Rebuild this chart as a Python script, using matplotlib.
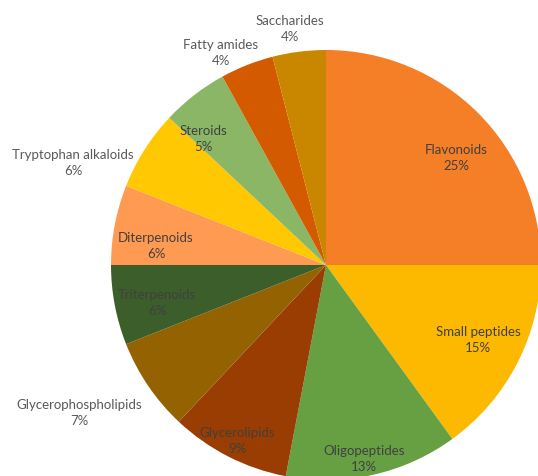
import matplotlib
matplotlib.use("Agg")
import matplotlib.pyplot as plt

plt.rcParams["font.family"] = ["Lato", "DejaVu Sans"]

# class shares (%) in clockwise order from 12 o'clock
classes = ["Flavonoids", "Small peptides", "Oligopeptides", "Glycerolipids",
           "Glycerophospholipids", "Triterpenoids", "Diterpenoids",
           "Tryptophan alkaloids", "Steroids", "Fatty amides", "Saccharides"]
shares = [25, 15, 13, 9, 7, 6, 6, 6, 5, 4, 4]

colors = ["#F47F26", "#FDB900", "#67A043", "#993D02", "#946200", "#3C5E2A",
          "#FF9A52", "#FFC800", "#8AB665", "#D45A00", "#C98700"]

# label anchor (pixel coords, y down) and text colour for each class
label_xy = [(456, 158), (478, 340), (364, 459), (237, 441), (79, 413),
            (157, 303), (156, 246), (73, 163), (203, 139), (221, 53), (290, 29)]
label_colors = ["#404040"] * 4 + ["#595959"] + ["#404040"] * 2 + ["#595959"] \
    + ["#404040"] + ["#595959"] * 2

W, H = 538, 477
CX, CY, R = 326, 266, 215

fig = plt.figure(figsize=(W / 100, H / 100), dpi=100)
ax = fig.add_axes([0, 0, 1, 1])

ax.pie(shares, colors=colors, startangle=90, counterclock=False,
       center=(CX, H - CY), radius=R, frame=True,
       wedgeprops=dict(linewidth=0))

for name, val, (x, y), c in zip(classes, shares, label_xy, label_colors):
    ax.text(x, H - y, f"{name}\n{val}%", ha="center", va="center",
            fontsize=9.5, color=c, linespacing=1.45)

ax.set_xlim(0, W)
ax.set_ylim(0, H)
ax.set_aspect("equal")
ax.axis("off")

fig.savefig("out.png", dpi=100, facecolor="white")
